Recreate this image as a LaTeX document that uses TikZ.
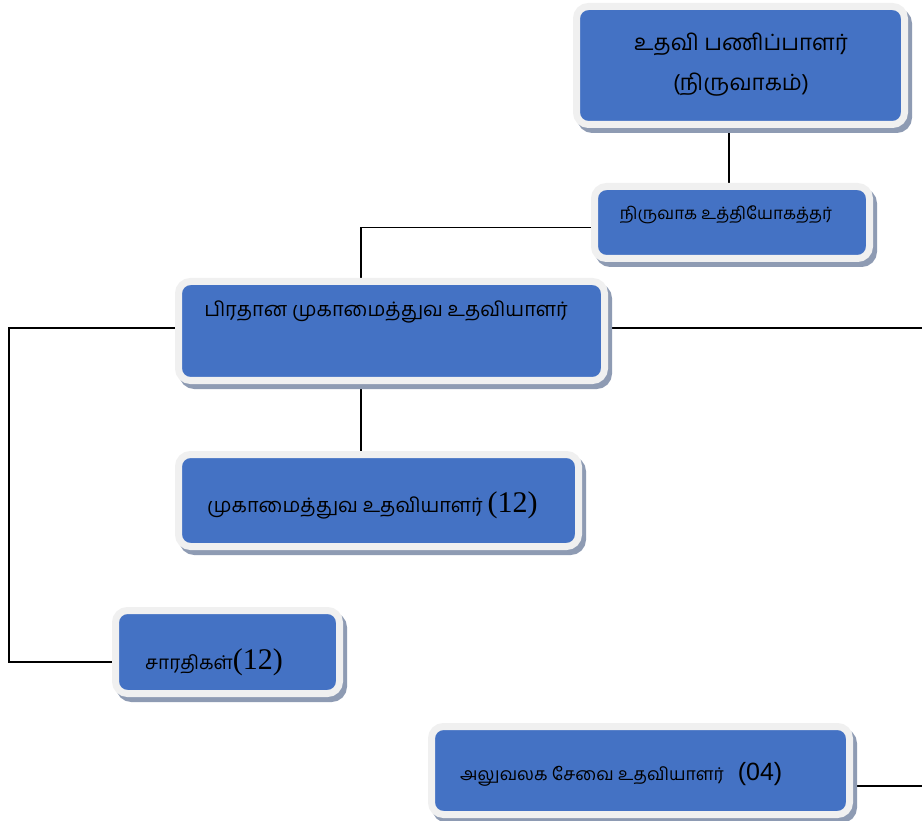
\documentclass[tikz,border=0pt]{standalone}
\usepackage{fontspec}
\newfontfamily\tamil[Script=Tamil]{Hind Madurai}
\newfontfamily\numserif{Liberation Serif}
\newfontfamily\numsans{Liberation Sans}
\definecolor{boxblue}{HTML}{4472C4}
\definecolor{framegray}{HTML}{F0F0F0}
\definecolor{shadowc}{HTML}{8E9BB3}
\pgfdeclarelayer{bg}
\pgfdeclarelayer{paper}
\pgfsetlayers{paper,bg,main}
\begin{document}
\begin{tikzpicture}[x=1pt,y=-1pt,
  orgbox/.style={rectangle, rounded corners=12pt, fill=boxblue, draw=framegray,
    line width=7pt, inner sep=0pt, align=center,
    preaction={fill=shadowc, draw=shadowc, line width=7pt,
      transform canvas={xshift=4pt,yshift=-5pt}}},
  lbl/.style={inner sep=0pt, text=black, font=\tamil},
  conn/.style={line width=1.6pt, black}]
\useasboundingbox (0,0) rectangle (922,821);
\begin{pgfonlayer}{paper}
\fill[white] (0,0) rectangle (922,821);
\end{pgfonlayer}
% boxes
\node[orgbox, minimum width=328pt, minimum height=118pt] (b1) at (740.5,65.5) {};
\node[orgbox, minimum width=275pt, minimum height=72pt] (b2) at (732,222.5) {};
\node[orgbox, minimum width=426pt, minimum height=99pt] (b3) at (391.5,331) {};
\node[orgbox, minimum width=400pt, minimum height=92pt] (b4) at (378.5,500.5) {};
\node[orgbox, minimum width=224pt, minimum height=83pt] (b5) at (227.5,652) {};
\node[orgbox, minimum width=418pt, minimum height=88pt] (b6) at (640.5,770.5) {};
% texts
\node[lbl, font=\tamil\fontsize{22.4}{40}\selectfont, align=center] (t1) at (741,65) {உதவி பணிப்பாளர்\\(நிருவாகம்)};
\node[lbl, font=\tamil\fontsize{17}{20}\selectfont] (t2) at (726,215) {நிருவாக உத்தியோகத்தர்};
\node[lbl, font=\tamil\fontsize{20}{22}\selectfont] (t3) at (386,312) {பிரதான முகாமைத்துவ உதவியாளர்};
\node[lbl, font=\tamil\fontsize{20}{22}\selectfont, anchor=base west] (t4) at (207,512) {முகாமைத்துவ உதவியாளர் {\numserif\fontsize{30}{32}\selectfont(12)}};
\node[lbl, font=\tamil\fontsize{19}{22}\selectfont, anchor=base west] (t5) at (145,669) {சாரதிகள்{\numserif\fontsize{30}{32}\selectfont(12)}};
\node[lbl, font=\tamil\fontsize{17.6}{20}\selectfont, anchor=base west] (t6) at (460,780) {அலுவலக சேவை உதவியாளர்\hspace{14pt}{\numsans\fontsize{25}{27}\selectfont(04)}};
% connectors
\coordinate (lc) at (9,662);
\coordinate (re1) at (922,328);
\coordinate (re2) at (922,786);
\begin{pgfonlayer}{bg}
\draw[conn] ([xshift=-3pt]b2.north) -- ([xshift=-3pt]b2.north |- b1.south);
\draw[conn] ([yshift=-5pt]b2.west) -| ([xshift=-30.5pt]b3.north);
\draw[conn] ([xshift=-30.5pt]b3.south) -- ([xshift=-30.5pt]b3.south |- b4.north);
\draw[conn] ([yshift=3pt]b3.west) -| (lc) -- (lc -| b5.west);
\draw[conn] ([yshift=3pt]b3.east) -- (re1);
\draw[conn] ([yshift=-15.5pt]b6.east) -- (re2);
\end{pgfonlayer}
\end{tikzpicture}
\end{document}
